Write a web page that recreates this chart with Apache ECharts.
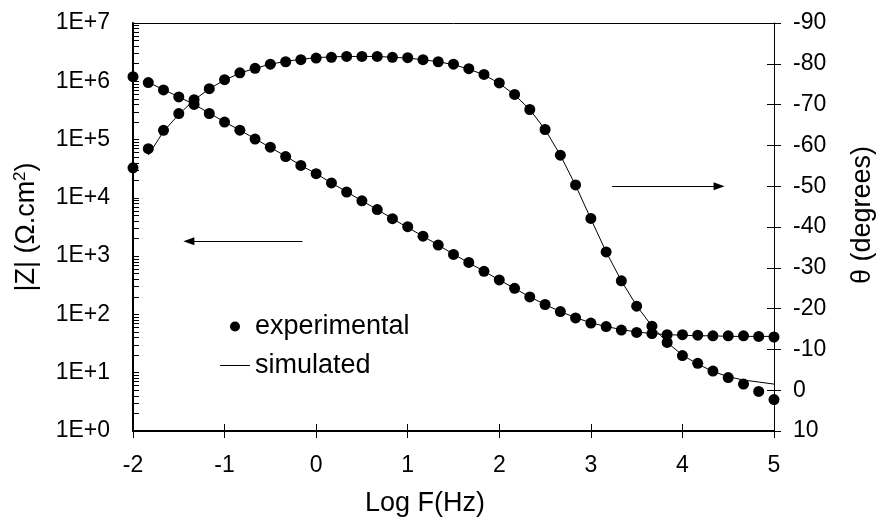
<!DOCTYPE html>
<html>
<head>
<meta charset="utf-8">
<script src="https://cdn.jsdelivr.net/npm/echarts@6/dist/echarts.min.js"></script>
<style>
  html, body { margin: 0; padding: 0; background: #fff; }
  #chart { width: 884px; height: 522px; }
</style>
</head>
<body>
<div id="chart"></div>
<script>
// Log of frequency (Hz)
const logF = [-2, -1.833, -1.667, -1.5, -1.333, -1.167, -1, -0.833, -0.667, -0.5, -0.333, -0.167,
  0, 0.167, 0.333, 0.5, 0.667, 0.833, 1, 1.167, 1.333, 1.5, 1.667, 1.833,
  2, 2.167, 2.333, 2.5, 2.667, 2.833, 3, 3.167, 3.333, 3.5, 3.667, 3.833,
  4, 4.167, 4.333, 4.5, 4.667, 4.833, 5];

// |Z| (Ohm.cm2), experimental
const zExp = [1.20e6, 9.5e5, 7.1e5, 5.4e5, 4.0e5, 2.8e5, 2.0e5, 1.45e5, 1.02e5, 7.4e4, 5.1e4, 3.6e4,
  2.6e4, 1.8e4, 1.26e4, 8.9e3, 6.3e3, 4.4e3, 3.2e3, 2.2e3, 1.55e3, 1.07e3, 780, 550,
  390, 280, 200, 148, 112, 87, 71, 62, 54, 49, 47, 45, 45, 44, 43, 43, 43, 42, 41];

// |Z| simulated (from logF[1] onwards)
const zSim = [9.6e5, 7.2e5, 5.4e5, 4.0e5, 2.85e5, 2.0e5, 1.45e5, 1.03e5, 7.3e4, 5.2e4, 3.6e4,
  2.6e4, 1.8e4, 1.27e4, 8.9e3, 6.3e3, 4.4e3, 3.1e3, 2.2e3, 1.55e3, 1.08e3, 770, 550,
  390, 280, 200, 148, 112, 88, 72, 62, 55, 50, 47, 45, 44, 43, 43, 42, 42, 42, 42];

// Phase angle (degrees), experimental
const phaseExp = [-54.5, -59.2, -63.7, -67.8, -71.2, -73.9, -76.1, -77.8, -78.9, -79.9, -80.5, -81.0,
  -81.4, -81.6, -81.8, -81.8, -81.8, -81.6, -81.5, -81.0, -80.5, -79.9, -78.8, -77.4,
  -75.3, -72.5, -68.8, -63.9, -57.6, -50.3, -42.1, -33.9, -26.8, -20.6, -15.7, -11.7,
  -8.5, -6.6, -4.7, -3.1, -1.5, 0.3, 2.3];

// Phase simulated (from logF[1] onwards)
const phaseSim = [-57.6, -63.4, -67.6, -71.1, -73.9, -76.0, -77.7, -78.9, -79.9, -80.6, -81.1,
  -81.5, -81.7, -81.8, -81.8, -81.8, -81.6, -81.4, -81.0, -80.5, -79.8, -78.7, -77.3,
  -75.2, -72.4, -68.8, -63.9, -57.6, -50.2, -42.0, -33.9, -26.8, -20.7, -15.7, -11.7,
  -8.6, -6.4, -4.6, -3.3, -2.5, -2.0, -1.5];

// Arrow annotations
const arrowZ = { y: 1800, from: -0.15, to: -1.39 };
const arrowPhase = { y: -50, from: 3.23, to: 4.40 };

const xTicks = { min: -2, max: 5, interval: 1 };
const phaseTicks = { min: -90, max: 10, interval: 10 };
const zDecades = [1, 10, 100, 1e3, 1e4, 1e5, 1e6, 1e7];
const minorMultipliers = [2, 3, 4, 5, 6, 7, 8, 9];

const FONT = "'Liberation Sans', Arial, sans-serif";
const zip = (xs, ys) => ys.map((v, i) => [xs[i], v]);
const simX = logF.slice(1);
// log-axis minor tick values (2..9 x each decade)
const zMinorTicks = [];
zDecades.slice(0, -1).forEach(d => minorMultipliers.forEach(m => zMinorTicks.push(m * d)));

const chart = echarts.init(document.getElementById('chart'), null, { renderer: 'canvas' });

const arrowLine = (a) => ({
  silent: true,
  symbol: ['none', 'triangle'],
  symbolSize: [8, 11],
  label: { show: false },
  lineStyle: { color: '#000', width: 1, type: 'solid' },
  emphasis: { disabled: true },
  data: [[{ coord: [a.from, a.y] }, { coord: [a.to, a.y] }]]
});

chart.setOption({
  animation: false,
  backgroundColor: '#fff',
  textStyle: { fontFamily: FONT, color: '#000' },
  grid: { left: 133, right: 103, top: 23, bottom: 89, containLabel: false },
  legend: {
    orient: 'vertical',
    left: 220, top: 313,
    itemWidth: 30, itemHeight: 10, itemGap: 12,
    padding: 0,
    symbolKeepAspect: true,
    textStyle: { fontSize: 27, color: '#000', fontFamily: FONT },
    data: [
      { name: 'experimental', icon: 'circle' },
      { name: 'simulated', icon: 'path://M0,0H30V1H0Z' }
    ]
  },
  xAxis: [
    {
      type: 'value', position: 'bottom', min: xTicks.min, max: xTicks.max, interval: xTicks.interval,
      axisLine: { show: true, onZero: false, lineStyle: { color: '#000', width: 2 } },
      axisTick: { show: true, inside: false, length: 7, lineStyle: { color: '#000', width: 1 } },
      axisLabel: { margin: 23, fontSize: 23, color: '#000', fontFamily: FONT },
      splitLine: { show: false },
      name: 'Log F(Hz)', nameLocation: 'middle', nameGap: 59,
      nameTextStyle: { fontSize: 27, color: '#000', fontFamily: FONT, padding: [0, 57, 0, 0] }
    },
    {
      type: 'value', position: 'bottom', min: xTicks.min, max: xTicks.max, interval: xTicks.interval,
      axisLine: { show: false, onZero: false },
      axisTick: { show: true, inside: true, length: 7, lineStyle: { color: '#000', width: 1 } },
      axisLabel: { show: false }, splitLine: { show: false }
    },
    {
      type: 'value', position: 'top', min: xTicks.min, max: xTicks.max, interval: xTicks.interval,
      axisLine: { show: true, onZero: false, lineStyle: { color: '#000', width: 1 } },
      axisTick: { show: false }, axisLabel: { show: false }, splitLine: { show: false }
    }
  ],
  yAxis: [
    {
      type: 'log', logBase: 10, position: 'left', min: 1, max: 1e7, splitNumber: 7,
      axisLine: { show: true, onZero: false, lineStyle: { color: '#000', width: 2 } },
      axisTick: { show: true, inside: true, length: 6, lineStyle: { color: '#000', width: 1 } },
      minorTick: { show: false },
      axisLabel: {
        margin: 23, fontSize: 23, color: '#000', fontFamily: FONT,
        formatter: (v) => '1E+' + Math.round(Math.log10(v))
      },
      splitLine: { show: false },
      name: '|Z| (Ω.cm{sup|2})', nameLocation: 'middle', nameRotate: 90, nameGap: 92,
      nameTextStyle: {
        fontSize: 27, color: '#000', fontFamily: FONT,
        rich: { sup: { fontSize: 17, verticalAlign: 'top', color: '#000', fontFamily: FONT, padding: [0, 0, 12, 0] } }
      }
    },
    {
      type: 'value', position: 'right', inverse: true,
      min: phaseTicks.min, max: phaseTicks.max, interval: phaseTicks.interval,
      axisLine: { show: true, onZero: false, lineStyle: { color: '#000', width: 1 } },
      axisTick: { show: true, inside: false, length: 7, lineStyle: { color: '#000', width: 1 } },
      axisLabel: { margin: 19, fontSize: 23, color: '#000', fontFamily: FONT },
      splitLine: { show: false },
      name: 'θ (degrees)', nameLocation: 'middle', nameRotate: 90, nameGap: 75,
      nameTextStyle: { fontSize: 27, color: '#000', fontFamily: FONT, padding: [0, 0, 0, 24] }
    },
    {
      type: 'value', position: 'right', inverse: true,
      min: phaseTicks.min, max: phaseTicks.max, interval: phaseTicks.interval,
      axisLine: { show: false, onZero: false },
      axisTick: { show: true, inside: true, length: 7, lineStyle: { color: '#000', width: 1 } },
      axisLabel: { show: false }, splitLine: { show: false }
    },
    {
      type: 'log', logBase: 10, position: 'left', min: 1, max: 1e7, splitNumber: 7,
      axisLine: { show: false, onZero: false },
      axisTick: { show: true, inside: true, length: 6, customValues: zMinorTicks,
        lineStyle: { color: '#000', width: 1 } },
      axisLabel: { show: false }, splitLine: { show: false }
    }
  ],
  series: [
    {
      name: 'simulated', type: 'line', xAxisIndex: 0, yAxisIndex: 0,
      data: zip(simX, zSim), symbol: 'none', smooth: false,
      lineStyle: { color: '#000', width: 1 }, itemStyle: { color: '#000' }, z: 2
    },
    {
      name: 'simulated', type: 'line', xAxisIndex: 0, yAxisIndex: 1,
      data: zip(simX, phaseSim), symbol: 'none', smooth: false,
      lineStyle: { color: '#000', width: 1 }, itemStyle: { color: '#000' }, z: 2
    },
    {
      name: 'experimental', type: 'scatter', xAxisIndex: 0, yAxisIndex: 0,
      data: zip(logF, zExp), symbol: 'circle', symbolSize: 11,
      itemStyle: { color: '#000', opacity: 1 }, z: 3,
      markLine: arrowLine(arrowZ)
    },
    {
      name: 'experimental', type: 'scatter', xAxisIndex: 0, yAxisIndex: 1,
      data: zip(logF, phaseExp), symbol: 'circle', symbolSize: 11,
      itemStyle: { color: '#000', opacity: 1 }, z: 3,
      markLine: arrowLine(arrowPhase)
    }
  ]
});
</script>
</body>
</html>
